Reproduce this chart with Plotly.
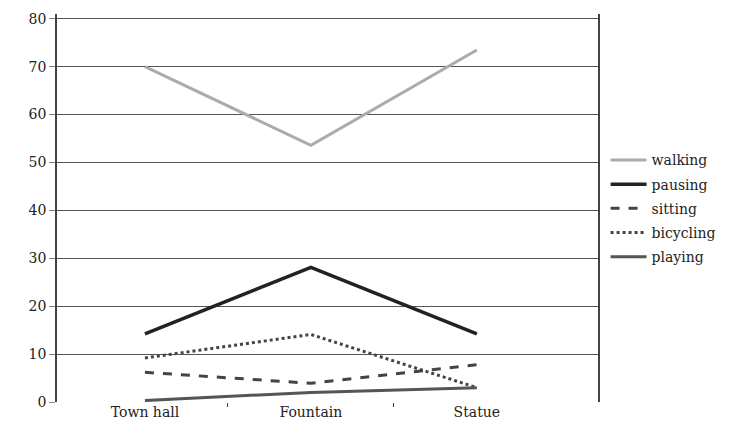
import plotly.graph_objects as go

categories = ["Town hall", "Fountain", "Statue"]
walking = [70, 53.6, 73.5]
pausing = [14.2, 28.1, 14.2]
sitting = [6.2, 3.9, 7.8]
bicycling = [9.2, 14.1, 3.0]
playing = [0.3, 2.0, 3.0]
yticks = [0, 10, 20, 30, 40, 50, 60, 70, 80]

series = [
    ("walking", walking, "#ababab", "solid", 3),
    ("pausing", pausing, "#222222", "solid", 3.5),
    ("sitting", sitting, "#444444", "dash", 3),
    ("bicycling", bicycling, "#444444", "dot", 3),
    ("playing", playing, "#555555", "solid", 3),
]

xpos = list(range(len(categories)))

fig = go.Figure()
for name, vals, color, dash, width in series:
    fig.add_trace(go.Scatter(
        x=xpos, y=vals, mode="lines", name=name, legendgroup=name,
        line=dict(color=color, dash=dash, width=width),
    ))

serif = "DejaVu Serif"
fsize = 14

fig.update_layout(
    width=731, height=422,
    margin=dict(l=49, r=141, t=3, b=28),
    plot_bgcolor="white", paper_bgcolor="white",
    font=dict(family=serif, size=fsize, color="#222"),
    showlegend=True,
    legend=dict(x=1.014, xanchor="left", y=0.664, yanchor="top",
                traceorder="grouped", tracegroupgap=3, itemwidth=36,
                font=dict(family=serif, size=fsize, color="#222"),
                bgcolor="rgba(0,0,0,0)"),
    xaxis=dict(
        range=[-0.53, 2.73], tickmode="array", tickvals=xpos, ticktext=categories,
        ticks="", showgrid=False, zeroline=False, showline=False,
        minor=dict(tickvals=[0.5, 1.5], ticks="outside", ticklen=4, tickcolor="#444", tickwidth=1, showgrid=False),
        tickfont=dict(family=serif, size=fsize, color="#222"),
    ),
    yaxis=dict(
        range=[0, 81], tickmode="array", tickvals=yticks,
        showgrid=True, gridcolor="#555", gridwidth=1.3,
        zeroline=False, showline=True, linecolor="#444", linewidth=1.5, mirror=True,
        ticks="outside", ticklen=6, tickcolor="#888", ticklabeloverflow="allow",
        tickfont=dict(family=serif, size=fsize, color="#222"),
    ),
)

fig.write_html("out.html")
